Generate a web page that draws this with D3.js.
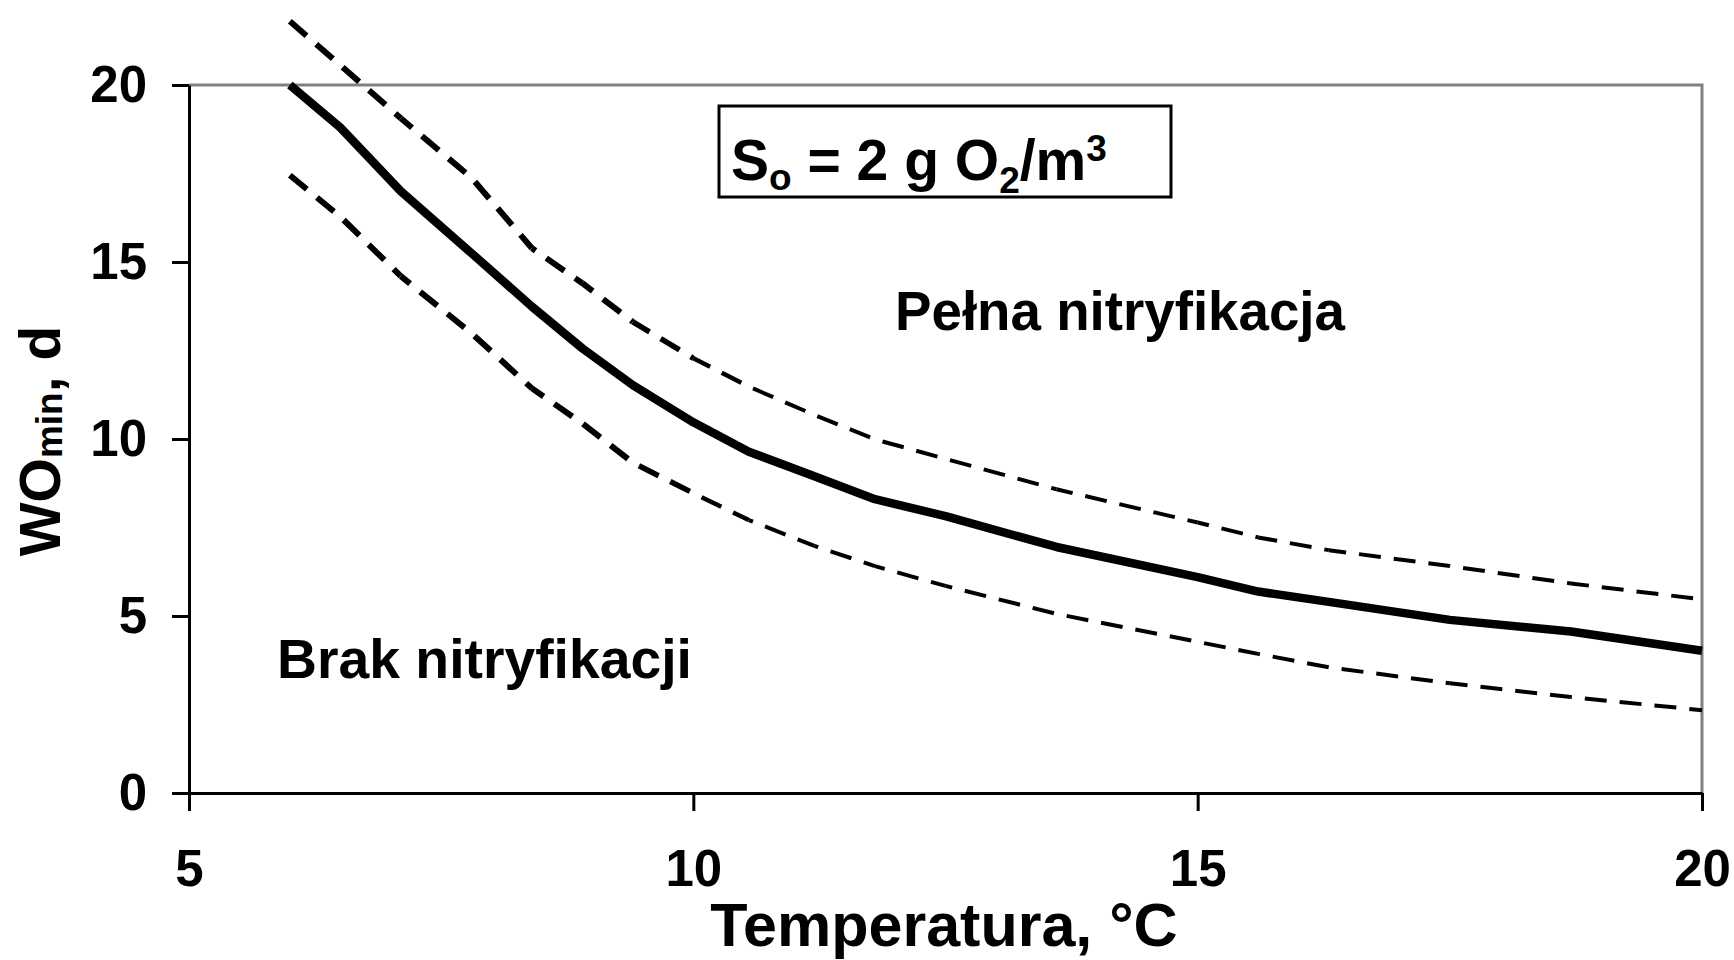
<!DOCTYPE html>
<html>
<head>
<meta charset="utf-8">
<script src="https://cdnjs.cloudflare.com/ajax/libs/d3/7.8.5/d3.min.js"></script>
<style>
  html, body { margin: 0; padding: 0; background: #fff; }
  svg text { font-family: "Liberation Sans", Arial, sans-serif; font-weight: bold; fill: #000; }
</style>
</head>
<body>
<svg id="chart"></svg>
<script>
// temperatura [°C] i minimalny wiek osadu [d]
var temps   = [6, 6.5, 7.1, 7.8, 8.4, 8.9, 9.4, 10, 10.55, 11.2, 11.8, 12.5, 13.6, 15, 15.6, 16.3, 17.5, 18.7, 20];
var woMin   = [20.0, 18.8, 17.0, 15.25, 13.74, 12.56, 11.52, 10.47, 9.64, 8.95, 8.3, 7.82, 6.95, 6.1, 5.69, 5.4, 4.89, 4.56, 4.02];
var woUpper = [21.8, 20.56, 19.06, 17.38, 15.39, 14.4, 13.31, 12.28, 11.48, 10.68, 9.99, 9.44, 8.58, 7.64, 7.22, 6.86, 6.41, 5.92, 5.47];
var woLower = [17.45, 16.28, 14.6, 12.99, 11.43, 10.44, 9.33, 8.47, 7.71, 6.98, 6.41, 5.85, 5.06, 4.27, 3.93, 3.55, 3.1, 2.71, 2.34];

var xTicks = [5, 10, 15, 20];
var yTicks = [0, 5, 10, 15, 20];

var width = 1734, height = 960;
var margin = {top: 85, right: 32, bottom: 167, left: 189};

var svg = d3.select("#chart")
  .attr("width", width)
  .attr("height", height);

var xScale = d3.scaleLinear()
  .domain([5, 20])
  .range([margin.left, width - margin.right]);

var yScale = d3.scaleLinear()
  .domain([0, 20])
  .range([height - margin.bottom, margin.top]);

// grey frame of the plot area (top and right)
svg.append("path")
  .attr("d", "M" + xScale(5) + "," + yScale(20) + "H" + xScale(20) + "V" + yScale(0))
  .attr("fill", "none")
  .attr("stroke", "#808080")
  .attr("stroke-width", 3);

var xAxis = d3.axisBottom(xScale)
  .tickValues(xTicks)
  .tickSizeInner(18)
  .tickSizeOuter(0)
  .tickPadding(39);

var yAxis = d3.axisLeft(yScale)
  .tickValues(yTicks)
  .tickSizeInner(17)
  .tickSizeOuter(0)
  .tickPadding(25);

var gx = svg.append("g")
  .attr("transform", "translate(0," + yScale(0) + ")")
  .call(xAxis);

var gy = svg.append("g")
  .attr("transform", "translate(" + xScale(5) + ",0)")
  .call(yAxis);

[gx, gy].forEach(function(g) {
  g.select(".domain").attr("stroke", "#000").attr("stroke-width", 3);
  g.selectAll(".tick line").attr("stroke", "#000").attr("stroke-width", 3);
  g.selectAll(".tick text")
    .style("font-family", "'Liberation Sans', Arial, sans-serif")
    .style("font-weight", "bold")
    .style("font-size", "51px")
    .attr("fill", "#000");
});

var points = function(vals) {
  return temps.map(function(t, i) { return [t, vals[i]]; });
};

var line = d3.line()
  .x(function(d) { return xScale(d[0]); })
  .y(function(d) { return yScale(d[1]); });

// dashed bounds: heavier dashes at low temperatures, one piece per segment
// so the dash pattern keeps running across the joints
var dashWidth = d3.scaleLinear().domain([9.4, 10.55]).range([6, 4]).clamp(true);

[woUpper, woLower].forEach(function(vals) {
  var pts = points(vals);
  var offset = 0;
  var g = svg.append("g");
  for (var i = 1; i < pts.length; i++) {
    var a = pts[i - 1], b = pts[i];
    var len = Math.hypot(xScale(b[0]) - xScale(a[0]), yScale(b[1]) - yScale(a[1]));
    g.append("path")
      .datum([a, b])
      .attr("d", line)
      .attr("fill", "none")
      .attr("stroke", "#000")
      .attr("stroke-width", dashWidth((a[0] + b[0]) / 2))
      .attr("stroke-dasharray", "22,13")
      .attr("stroke-dashoffset", offset);
    offset += len;
  }
});

// main curve
svg.append("path")
  .datum(points(woMin))
  .attr("d", line)
  .attr("fill", "none")
  .attr("stroke", "#000")
  .attr("stroke-width", 8.5)
  .attr("stroke-linejoin", "round");

// oxygen concentration box
svg.append("rect")
  .attr("x", 719)
  .attr("y", 106)
  .attr("width", 452)
  .attr("height", 91)
  .attr("fill", "#fff")
  .attr("stroke", "#000")
  .attr("stroke-width", 3);

var so = svg.append("text")
  .attr("x", 731)
  .attr("y", 180)
  .style("font-size", "57px");
so.append("tspan").text("S");
so.append("tspan").attr("dy", 10).style("font-size", "37px").text("o");
so.append("tspan").attr("dy", -10).text(" = 2 g O");
so.append("tspan").attr("dy", 13).style("font-size", "37px").text("2");
so.append("tspan").attr("dy", -13).text("/m");
so.append("tspan").attr("dy", -19).style("font-size", "37px").text("3");

// region labels
svg.append("text")
  .attr("x", 895)
  .attr("y", 330)
  .attr("textLength", 450)
  .attr("lengthAdjust", "spacingAndGlyphs")
  .style("font-size", "56px")
  .text("Pełna nitryfikacja");

svg.append("text")
  .attr("x", 277)
  .attr("y", 678)
  .attr("textLength", 415)
  .attr("lengthAdjust", "spacingAndGlyphs")
  .style("font-size", "56px")
  .text("Brak nitryfikacji");

// axis titles
svg.append("text")
  .attr("x", 944)
  .attr("y", 946)
  .attr("text-anchor", "middle")
  .style("font-size", "61px")
  .text("Temperatura, °C");

var yTitle = svg.append("text")
  .attr("transform", "translate(60,441) rotate(-90)")
  .attr("text-anchor", "middle")
  .style("font-size", "57px");
yTitle.append("tspan").text("WO");
yTitle.append("tspan").attr("dy", 2).style("font-size", "37px").text("min");
yTitle.append("tspan").attr("dy", -2).text(", d");
</script>
</body>
</html>
